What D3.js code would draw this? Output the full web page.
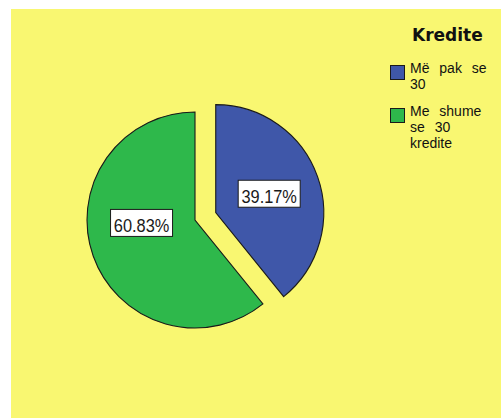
<!DOCTYPE html>
<html>
<head>
<meta charset="utf-8">
<script src="https://cdn.jsdelivr.net/npm/d3@7"></script>
<style>
  html, body { margin: 0; padding: 0; background: #ffffff; }
  svg { display: block; }
</style>
</head>
<body>
<svg id="chart" width="501" height="418"></svg>
<script>
// Share of students by credits earned
const categories = ["Më pak se 30", "Me shume se 30 kredite"];
const legendLines = [["Më pak se", "30"], ["Me shume", "se 30", "kredite"]];
const values = [39.17, 60.83];
const colors = ["#3f57a9", "#2eb84b"];
const legendTitle = "Kredite";

const svg = d3.select("#chart");

// panel background
svg.append("rect")
  .attr("x", 11).attr("y", 9)
  .attr("width", 490).attr("height", 409)
  .attr("fill", "#f9f771");

const cx = 195, cy = 220, R = 108;
const explode = [22, 0];          // first slice pulled out of the pie
const labelNudge = [0, -16];      // vertical nudge of each value box

const pie = d3.pie().sort(null).startAngle(0).endAngle(2 * Math.PI);
const arcs = pie(values);
const arc = d3.arc().innerRadius(0).outerRadius(R);
const labelArc = d3.arc().innerRadius(0).outerRadius(R * 1.05);

const g = svg.append("g").attr("transform", `translate(${cx},${cy})`);

function offset(d, i) {
  const a = (d.startAngle + d.endAngle) / 2;
  return [Math.sin(a) * explode[i], -Math.cos(a) * explode[i]];
}

const slices = g.selectAll("g.slice").data(arcs).join("g")
  .attr("class", "slice")
  .attr("transform", (d, i) => { const o = offset(d, i); return `translate(${o[0]},${o[1]})`; });

slices.append("path")
  .attr("d", arc)
  .attr("fill", (d, i) => colors[i])
  .attr("stroke", "#1a1a1a")
  .attr("stroke-width", 1.1)
  .attr("stroke-linejoin", "miter");

// value boxes
const fmt = v => v.toFixed(2) + "%";
const boxW = 62, boxH = 27;
slices.each(function (d, i) {
  const c = labelArc.centroid(d);
  const x = c[0], y = c[1] + labelNudge[i];
  const s = d3.select(this);
  s.append("rect")
    .attr("x", x - boxW / 2).attr("y", y - boxH / 2)
    .attr("width", boxW).attr("height", boxH)
    .attr("fill", "#ffffff")
    .attr("stroke", "#1a1a1a").attr("stroke-width", 1);
  s.append("text")
    .attr("x", x).attr("y", y + 9)
    .attr("text-anchor", "middle")
    .attr("font-family", "Liberation Sans, Arial, sans-serif")
    .attr("font-size", 18)
    .attr("textLength", 55.5)
    .attr("lengthAdjust", "spacingAndGlyphs")
    .attr("fill", "#1a1a1a")
    .text(fmt(d.data));
});

// legend
const legend = svg.append("g");
legend.append("text")
  .attr("x", 412).attr("y", 41)
  .attr("font-family", "DejaVu Sans, sans-serif")
  .attr("font-weight", "bold")
  .attr("font-size", 17)
  .attr("fill", "#111")
  .text(legendTitle);

const itemY = [65, 108];
const lineH = 15.7;
categories.forEach((cat, i) => {
  const item = legend.append("g").attr("transform", `translate(390,${itemY[i]})`);
  item.append("rect")
    .attr("x", 0.5).attr("y", 0.5)
    .attr("width", 14).attr("height", 14)
    .attr("fill", colors[i])
    .attr("stroke", "#1a1a1a").attr("stroke-width", 1);
  legendLines[i].forEach((ln, j) => {
    item.append("text")
      .attr("x", 20).attr("y", 8.3 + j * lineH)
      .attr("font-family", "Liberation Sans, Arial, sans-serif")
      .attr("font-size", 14)
      .attr("fill", "#111")
      .attr("word-spacing", 6)
      .text(ln);
  });
});
</script>
</body>
</html>
